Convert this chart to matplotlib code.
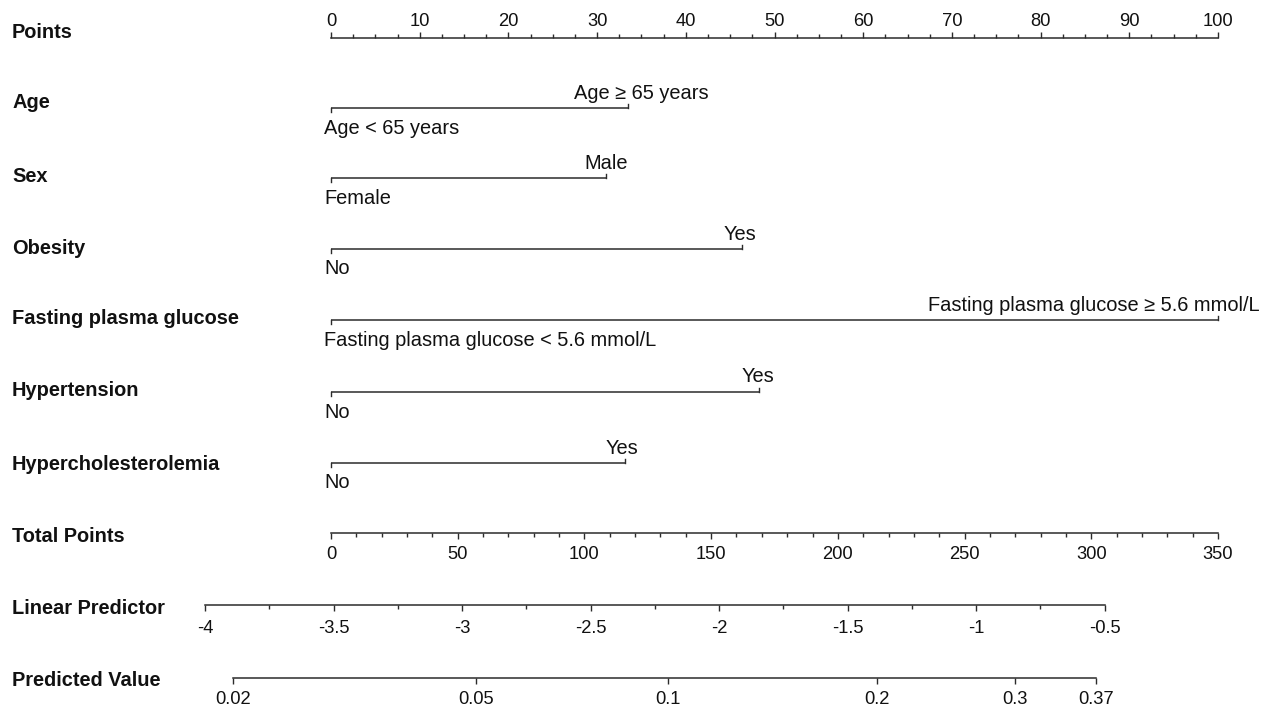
import numpy as np
import matplotlib
matplotlib.use("Agg")
import matplotlib.pyplot as plt
from matplotlib.ticker import FixedLocator, FixedFormatter
import matplotlib.transforms as mtransforms

plt.rcParams['font.family'] = ['Liberation Sans', 'DejaVu Sans']
plt.rcParams['axes.unicode_minus'] = False

# ---------------- data ----------------
variables = ["Age", "Sex", "Obesity", "Fasting plasma glucose", "Hypertension", "Hypercholesterolemia"]
level_low = ["Age < 65 years", "Female", "No", "Fasting plasma glucose < 5.6 mmol/L", "No", "No"]
level_high = ["Age ≥ 65 years", "Male", "Yes", "Fasting plasma glucose ≥ 5.6 mmol/L", "Yes", "Yes"]
points_high = [33.5, 31.0, 46.3, 100.0, 48.3, 33.1]

points_ticks = list(range(0, 101, 10))
points_minor_step = 2.5
total_ticks = list(range(0, 351, 50))
total_minor_step = 10
total_max = 350
lp_ticks = [-4, -3.5, -3, -2.5, -2, -1.5, -1, -0.5]
lp_labels = ["-4", "-3.5", "-3", "-2.5", "-2", "-1.5", "-1", "-0.5"]
lp_minor_step = 0.25
prob_ticks = [0.02, 0.05, 0.1, 0.2, 0.3, 0.37]
prob_labels = ["0.02", "0.05", "0.1", "0.2", "0.3", "0.37"]
lp_at_zero_total = -3.51      # linear predictor at 0 total points
lp_per_total_point = 0.00986  # change of linear predictor per total point

# ---------------- layout ----------------
W, H, DPI = 1267, 706, 100
X0, X100 = 331, 1218          # pixel position of 0 and 100 points
LINE = '#2b2b2b'
TXT = '#111111'
FS_TICK = 13.2
FS = 14.4
FS_BOLD = 14.4

fig = plt.figure(figsize=(W / DPI, H / DPI), dpi=DPI)
ax = fig.add_axes([0, 0, 1, 1])
ax.set_axis_off()
pt_lim = ((0 - X0) / (X100 - X0) * 100, (W - X0) / (X100 - X0) * 100)
ax.set_xlim(*pt_lim)
ax.set_ylim(H, 0)

def name_label(y, text):
    ax.text(12 / W, y, text, transform=mtransforms.blended_transform_factory(ax.transAxes, ax.transData),
            ha='left', va='center', fontsize=FS_BOLD, fontweight='bold', color=TXT)

def scale_axes(y_px, xlim, pad, top=False):
    a = fig.add_axes([0, 1 - y_px / H, 1, 0.00001])
    a.set_facecolor('none')
    a.set_xlim(*xlim)
    a.set_yticks([])
    for s in ['left', 'right', 'top', 'bottom']:
        a.spines[s].set_visible(False)
    side = 'top' if top else 'bottom'
    a.spines[side].set_visible(True)
    a.spines[side].set_color(LINE)
    a.spines[side].set_linewidth(1.1)
    if top:
        a.xaxis.tick_top()
    a.tick_params(axis='x', which='major', length=4.5, width=1.0, color=LINE,
                  labelsize=FS_TICK, labelcolor=TXT, pad=pad, direction='out')
    a.tick_params(axis='x', which='minor', length=2.6, width=1.0, color=LINE, direction='out')
    return a, side

# Points axis
a, s = scale_axes(38, pt_lim, pad=1.5, top=True)
a.xaxis.set_major_locator(FixedLocator(points_ticks))
a.xaxis.set_major_formatter(FixedFormatter([str(t) for t in points_ticks]))
a.xaxis.set_minor_locator(FixedLocator(np.arange(0, 100 + 1e-9, points_minor_step)))
a.spines[s].set_bounds(0, 100)
name_label(33, "Points")

# Variable rows
row_y = [107.7, 177.7, 248.5, 320, 391.5, 462.5]
name_y = [103, 177, 249, 319, 391, 464]
high_dx = [13, 0, -2, 0, -1, -3]
high_ha = ['center', 'center', 'center', 'right', 'center', 'center']
for i, var in enumerate(variables):
    y = row_y[i]
    ph = points_high[i]
    ax.plot([0, ph], [y, y], color=LINE, lw=1.1, solid_capstyle='butt')
    ax.plot([0, 0], [y, y + 4], color=LINE, lw=1.0)
    ax.plot([ph, ph], [y, y - 4], color=LINE, lw=1.0)
    name_label(name_y[i], var)
    tr_low = mtransforms.offset_copy(ax.transData, fig=fig, x=-7, y=0, units='dots')
    ax.text(0, y + 11, level_low[i], ha='left', va='top', fontsize=FS, color=TXT, transform=tr_low)
    if high_ha[i] == 'right':
        ax.text((1260 - X0) / (X100 - X0) * 100, y - 5, level_high[i], ha='right', va='bottom',
                fontsize=FS, color=TXT)
    else:
        tr_high = mtransforms.offset_copy(ax.transData, fig=fig, x=high_dx[i], y=0, units='dots')
        ax.text(ph, y - 5, level_high[i], ha='center', va='bottom', fontsize=FS, color=TXT,
                transform=tr_high)

# Total points axis
tot_lim = (pt_lim[0] * total_max / 100, pt_lim[1] * total_max / 100)
a, s = scale_axes(532.5, tot_lim, pad=5.0)
a.xaxis.set_major_locator(FixedLocator(total_ticks))
a.xaxis.set_major_formatter(FixedFormatter([str(t) for t in total_ticks]))
a.xaxis.set_minor_locator(FixedLocator(np.arange(0, total_max + 1e-9, total_minor_step)))
a.spines[s].set_bounds(0, total_max)
name_label(537, "Total Points")

# Linear predictor axis
lp_lim = (lp_at_zero_total + lp_per_total_point * tot_lim[0],
          lp_at_zero_total + lp_per_total_point * tot_lim[1])
a, s = scale_axes(604.5, lp_lim, pad=6.5)
a.xaxis.set_major_locator(FixedLocator(lp_ticks))
a.xaxis.set_major_formatter(FixedFormatter(lp_labels))
a.xaxis.set_minor_locator(FixedLocator(np.arange(lp_ticks[0], lp_ticks[-1] + 1e-9, lp_minor_step)))
a.spines[s].set_bounds(lp_ticks[0], lp_ticks[-1])
name_label(609, "Linear Predictor")

# Predicted value axis
logit = lambda p: np.log(p / (1 - p))
a, s = scale_axes(677.5, lp_lim, pad=5.0)
a.xaxis.set_major_locator(FixedLocator([logit(p) for p in prob_ticks]))
a.xaxis.set_major_formatter(FixedFormatter(prob_labels))
a.spines[s].set_bounds(logit(prob_ticks[0]), logit(prob_ticks[-1]))
name_label(681, "Predicted Value")

fig.savefig("out.png", dpi=DPI)
